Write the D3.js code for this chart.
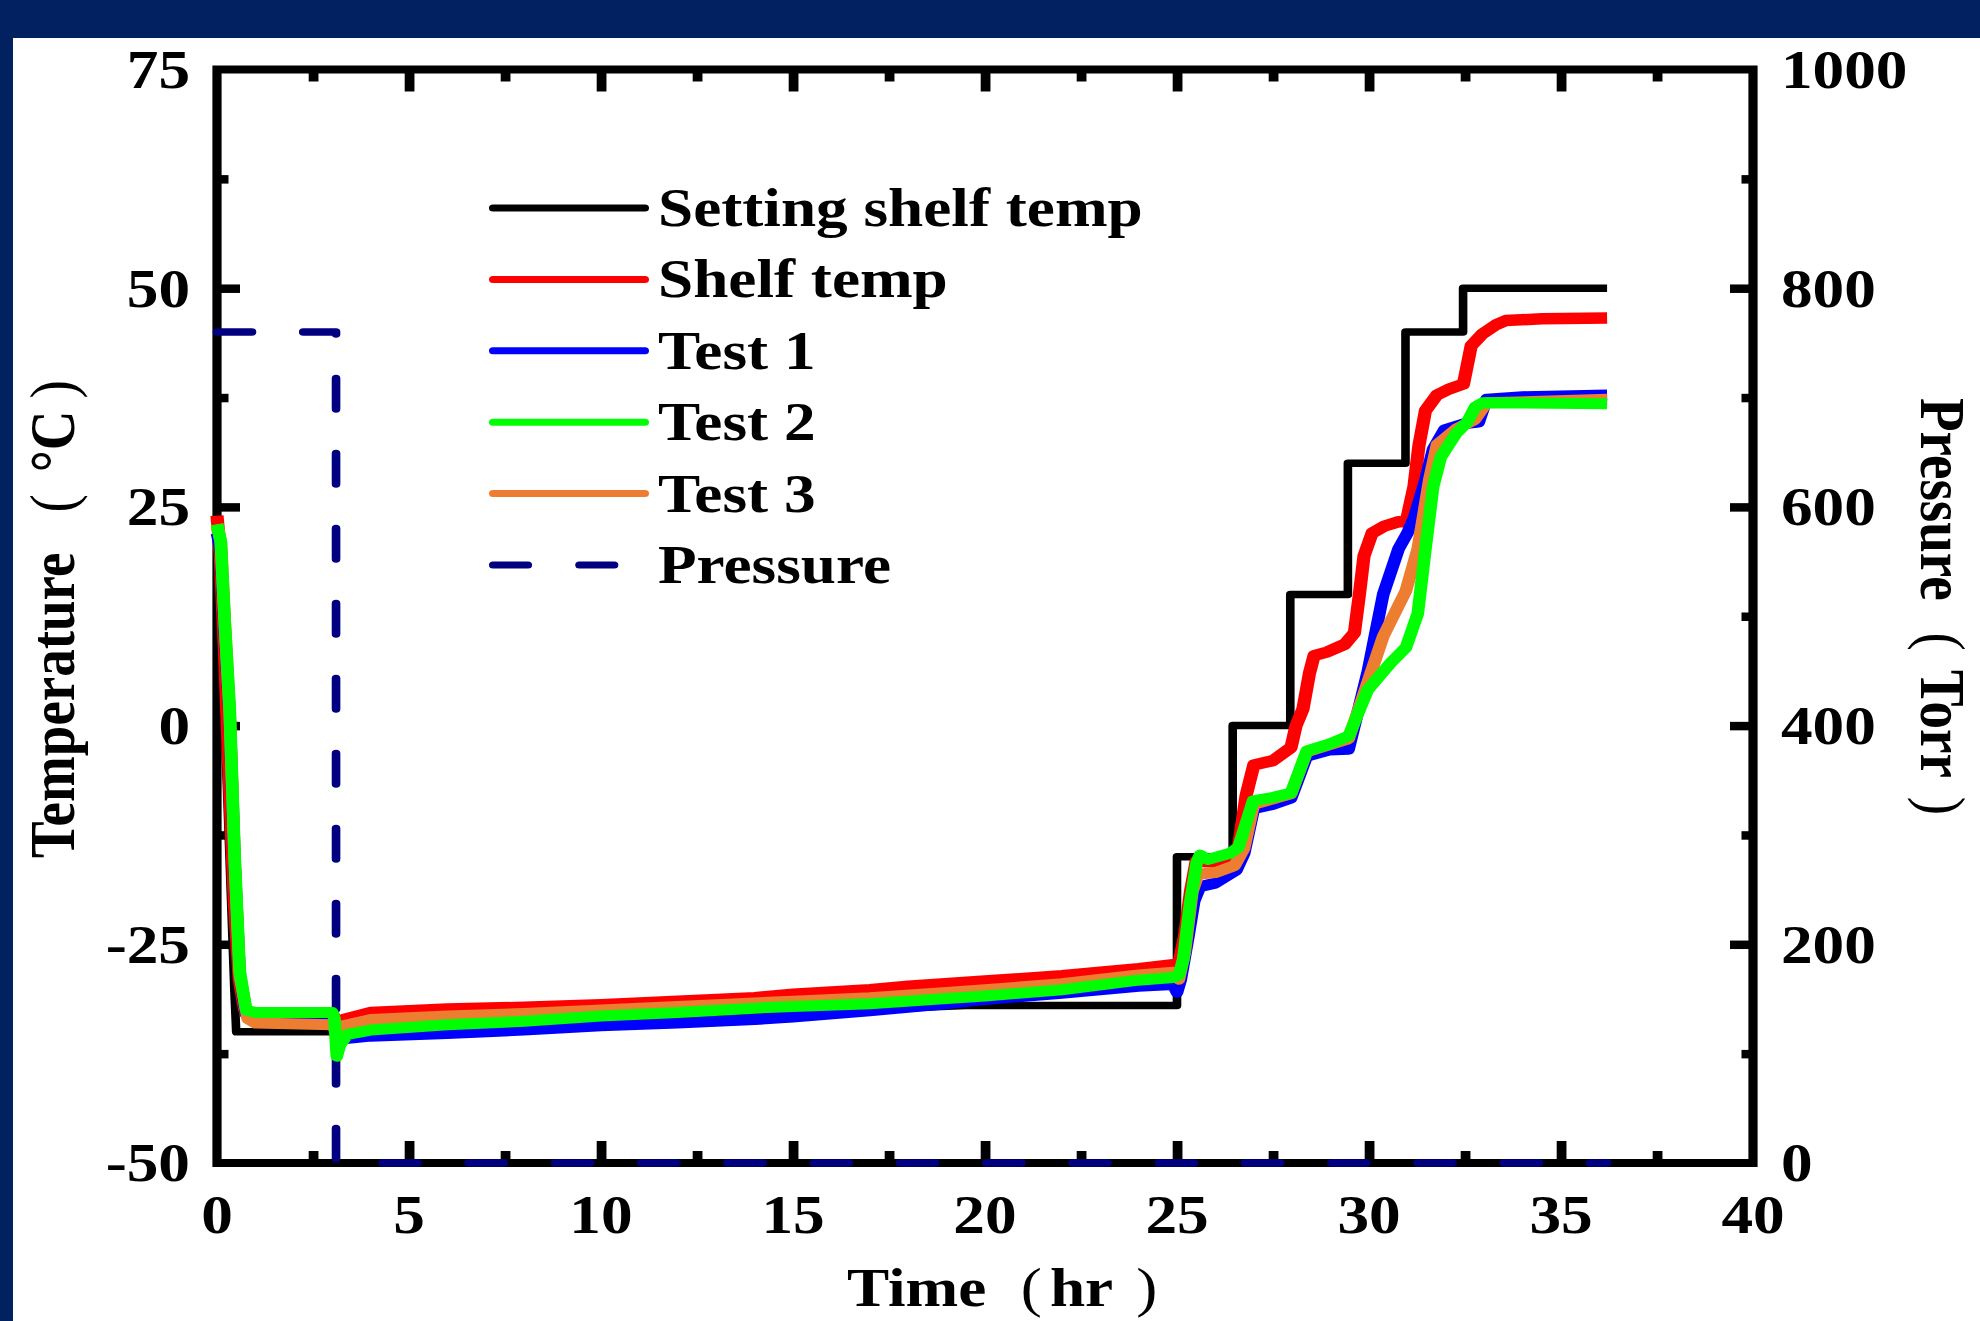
<!DOCTYPE html>
<html><head><meta charset="utf-8">
<script src="https://cdn.jsdelivr.net/npm/d3@7"></script>
<style>html,body{margin:0;padding:0;background:#012160;}svg{display:block}</style>
</head><body>
<svg id="c" width="1980" height="1321"></svg>
<script>
// ---------------- data ----------------
const xTicks = [0, 5, 10, 15, 20, 25, 30, 35, 40];
const yTicks = [-50, -25, 0, 25, 50, 75];
const pTicks = [0, 200, 400, 600, 800, 1000];

const seriesNames = ["Setting shelf temp", "Shelf temp", "Test 1", "Test 2", "Test 3", "Pressure"];

const setT = [0, 0.45, 0.5, 3.05, 19.5, 25, 25, 26.45, 26.45, 27.95, 27.95, 29.45, 29.45, 30.95, 30.95, 32.45, 32.45, 36.2];
const setV = [24, -30, -35, -35, -32, -32, -15, -15, 0, 0, 15, 15, 30, 30, 45, 45, 50, 50];

const redT = [0,0.08,0.2,0.32,0.45,0.58,0.72,0.9,1.5,2.5,3.05,3.12,3.3,4,6,8,10,12,14,15,17,18,20,22,24,24.95,25.05,25.2,25.35,25.5,26.0,26.4,26.6,26.8,27.0,27.5,27.97,28.1,28.28,28.45,28.57,28.9,29.37,29.62,29.75,29.87,30.08,30.4,30.77,30.97,31.17,31.3,31.47,31.77,32.1,32.46,32.66,32.96,33.3,33.56,34.5,36.2];
const redV = [24,20,8,-6,-20,-29,-32.5,-33,-33.2,-33.2,-33.3,-34.6,-33.6,-32.8,-32.4,-32.2,-31.9,-31.5,-31.1,-30.7,-30.2,-29.8,-29.2,-28.6,-27.8,-27.3,-27.2,-24,-19,-15.5,-15.6,-15.2,-13.9,-8,-4.5,-4,-2.5,0,1.9,6,8,8.4,9.3,10.6,15,19.4,22,22.8,23.3,23.3,27.3,32,36,37.8,38.5,39.05,43.4,44.8,45.8,46.3,46.5,46.6];

const blueT = [0,0.1,0.2,0.33,0.46,0.59,0.76,1.0,3.0,3.08,3.3,4,6,8,10,12,14,15,17,19,20,22,24,24.9,25.0,25.1,25.3,25.45,25.6,26.0,26.55,26.75,27.0,27.5,27.97,28.38,28.97,29.47,29.97,30.37,30.77,31.0,31.17,31.47,31.67,31.96,32.46,32.86,33.06,34,36.2];
const blueV = [22,20,11,1,-16,-28.5,-33,-33.3,-33.3,-35,-35.8,-35.5,-35.2,-34.8,-34.3,-34,-33.6,-33.3,-32.6,-31.8,-31.3,-30.6,-29.8,-29.6,-30.5,-29,-24,-20,-18.4,-18,-16.5,-14.6,-9.5,-9,-8.3,-3.5,-2.8,-2.7,6.2,15,20.2,22,23.7,28.1,31.6,33.8,34.5,34.7,37.3,37.6,37.8];

const greenT = [0,0.1,0.2,0.33,0.46,0.59,0.76,1.0,2.0,3.0,3.06,3.12,3.2,3.4,4,6,8,10,12,14,15,17,19,20,22,24,24.9,25.05,25.16,25.34,25.51,25.6,25.8,26.38,26.6,26.98,27.5,27.97,28.38,28.97,29.47,29.97,30.57,30.96,31.27,31.47,31.67,31.87,32.27,32.56,32.76,32.96,36.2];
const greenV = [23,21,12,2,-15,-28,-32.5,-32.8,-32.8,-32.8,-33.5,-37.8,-36.5,-35.3,-34.8,-34.2,-33.8,-33.2,-32.8,-32.3,-32.1,-31.8,-31.2,-30.9,-30.2,-29.1,-28.8,-28.5,-26.8,-20.3,-15.7,-14.8,-15.3,-14.6,-13.9,-8.6,-8.2,-7.7,-2.9,-2.1,-1.2,4.1,7.2,8.9,12.8,20.2,27.3,30.7,33.4,34.7,36.4,36.9,36.8];

const orangeT = [0,0.1,0.2,0.33,0.46,0.59,0.8,1.0,3.0,3.1,3.3,4,6,8,10,12,14,15,17,19,20,22,24,24.9,25.05,25.2,25.4,25.55,26.0,26.5,26.75,27.0,27.97,28.38,29.47,29.97,30.37,30.96,31.27,31.57,31.77,32.27,32.76,33.06,36.2];
const orangeV = [23,21,12,1.5,-15.5,-28.5,-33.5,-34,-34.2,-35,-34.3,-33.6,-33.2,-32.9,-32.5,-32.1,-31.7,-31.5,-31.1,-30.5,-30.2,-29.5,-28.5,-28.2,-29,-26,-19,-17,-16.8,-16,-14,-9,-7.8,-3,-1.5,5,10.2,15.4,20.2,28.1,32.1,33.9,35,36.9,37.3];

const presT = [0, 3.1, 3.1, 36.2];
const presV = [760, 760, 0, 0];

// ---------------- drawing ----------------
const SX = 1.15; // horizontal stretch of the original figure
const FONT = "'Liberation Serif','Times New Roman',Times,serif";
const svg = d3.select("#c");
svg.append("rect").attr("x", 13).attr("y", 38).attr("width", 1967).attr("height", 1283).attr("fill", "#fff");
const g = svg.append("g").attr("transform", `scale(${SX},1)`);

const L = 217 / SX, R = 1753 / SX, T = 69.5, B = 1163;
const x = d3.scaleLinear().domain([0, 40]).range([L, R]);
const y = d3.scaleLinear().domain([-50, 75]).range([B, T]);
const yP = d3.scaleLinear().domain([0, 1000]).range([B, T]);

// frame
g.append("rect").attr("x", L).attr("y", T).attr("width", R - L).attr("height", B - T)
  .attr("fill", "none").attr("stroke", "#000").attr("stroke-width", 8);

function ticks(axis, tr, vals, size) {
  const a = g.append("g").attr("transform", tr)
    .call(axis.tickValues(vals).tickSize(-size).tickFormat(""));
  a.select(".domain").remove();
  a.selectAll("line").attr("stroke", "#000").attr("stroke-width", 8.5);
}
const xMinor = xTicks.slice(0, -1).map(v => v + 2.5);
const yMinor = yTicks.slice(0, -1).map(v => v + 12.5);
const pMinor = pTicks.slice(0, -1).map(v => v + 100);
ticks(d3.axisBottom(x), `translate(0,${B})`, xTicks.slice(1, -1), 22);
ticks(d3.axisBottom(x), `translate(0,${B})`, xMinor, 12);
ticks(d3.axisTop(x), `translate(0,${T})`, xTicks.slice(1, -1), 22);
ticks(d3.axisTop(x), `translate(0,${T})`, xMinor, 12);
ticks(d3.axisLeft(y), `translate(${L},0)`, yTicks.slice(1, -1), 20);
ticks(d3.axisLeft(y), `translate(${L},0)`, yMinor, 10);
ticks(d3.axisRight(yP), `translate(${R},0)`, pTicks.slice(1, -1), 20);
ticks(d3.axisRight(yP), `translate(${R},0)`, pMinor, 10);

function label(px, py, str, anchor) {
  return g.append("text").attr("x", px).attr("y", py).attr("text-anchor", anchor)
    .attr("font-family", FONT).attr("font-weight", "bold").attr("font-size", 55)
    .attr("fill", "#000").text(str);
}
xTicks.forEach(v => label(x(v), 1233, String(v), "middle"));
yTicks.forEach(v => label(190 / SX, y(v) + 18.5, String(v), "end"));
pTicks.forEach(v => label(1781 / SX, yP(v) + 18.5, String(v), "start"));

// axis titles (thin parentheses, bold words)
function title(tr, parts) {
  const t = g.append("text").attr("transform", tr).attr("font-size", 55).attr("fill", "#000")
    .attr("font-family", FONT);
  parts.forEach(p => t.append("tspan")
    .attr("font-weight", p[1] ? "normal" : "bold").attr("dx", p[2] || 0).text(p[0]));
}
title(`translate(${847 / SX},1306)`, [["Time", 0], ["(", 1, 30], ["hr", 0, 7], [")", 1, 20]]);
title(`translate(${74 / SX},858) rotate(-90)`, [["Temperature", 0], ["(", 1, 40], ["°C", 0, 22], [")", 1, 12]]);
title(`translate(${1921 / SX},398) rotate(90)`, [["Pressure", 0], ["(", 1, 32], ["Torr", 0, 19], [")", 1, 19]]);

// series
const line = d3.line().x(d => x(d[0])).y(d => d[2](d[1]));
function path(ts, vs, sc, color, w, dash) {
  const p = g.append("path").datum(ts.map((t, i) => [t, vs[i], sc]))
    .attr("d", line).attr("fill", "none").attr("stroke", color).attr("stroke-width", w)
    .attr("stroke-linejoin", "round");
  if (dash) p.attr("stroke-dasharray", dash).attr("stroke-linecap", "round");
  return p;
}
const NAVY = "#000080";
path(presT, presV, yP, NAVY, 7.5, "30.5,44.5");
path(setT, setV, y, "#000", 7.5);
path(redT, redV, y, "#ff0000", 11.5);
path(blueT, blueV, y, "#0000ff", 11);
path(orangeT, orangeV, y, "#ed7d31", 11);
path(greenT, greenV, y, "#00ff00", 11);

// legend
const colors = ["#000", "#ff0000", "#0000ff", "#00ff00", "#ed7d31", NAVY];
seriesNames.forEach((n, i) => {
  const ly = 208 + i * 71.4;
  const l = g.append("line").attr("x1", 493 / SX).attr("x2", 645 / SX).attr("y1", ly).attr("y2", ly)
    .attr("stroke", colors[i]).attr("stroke-width", 7).attr("stroke-linecap", "round");
  if (i === 5) l.attr("stroke-dasharray", "30.5,44.5");
  label(658 / SX, ly + 18, n, "start");
});
</script>
</body></html>
